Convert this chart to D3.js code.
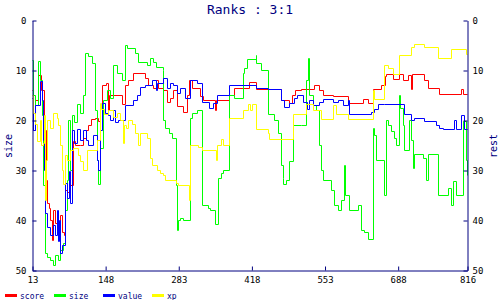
<!DOCTYPE html>
<html lang="en">
<head>
    <meta charset="UTF-8">
    <title>Ranks : 3:1</title>
    <script src="https://d3js.org/d3.v7.min.js"></script>
    <style>
        body { margin: 0; background: #fff; }
        svg { display: block; }
        text { font-family: "DejaVu Sans Mono", monospace; }
        .axis path, .axis line { stroke: #000080; }
        .axis text { fill: #000; font-size: 9px; }
        .series { fill: none; stroke-width: 1; }
    </style>
</head>
<body>
<svg id="chart" width="500" height="300"></svg>
<script>
    // step points [x, rank] for each series
    const score = [[13,14],[15,22],[19,16],[24,11],[30,14],[35,22],[39,32],[41,36.5],[44,37.5],[46,40],[50,44],[52,38],[56,40.5],[61,41],[65,39],[69,42.5],[72,43],[74,34],[78,34.5],[83,33],[89,24.2],[93,25],[102,24.9],[108,23.5],[113,22],[117,21],[122,19.8],[130,19.5],[135,20.2],[139,17.6],[143,12.9],[150,12.6],[154,17.9],[156,14.9],[179,16.9],[185,12.9],[191,11.9],[200,10.6],[222,11.6],[228,12.9],[237,13.5],[241,12],[246,13.5],[255,13.9],[263,16.3],[268,15.6],[274,13.9],[281,17.2],[291,18.4],[300,15],[302,11.9],[309,13.5],[324,15.2],[328,15.9],[351,17.9],[353,15.9],[376,14.9],[385,13.6],[413,12.3],[426,13.8],[472,15.9],[487,16.6],[493,14.9],[498,13.9],[509,13.8],[533,12.9],[542,13.9],[550,14.9],[568,15.2],[596,16.6],[624,15.8],[633,16.6],[642,13.8],[657,12.9],[664,11.2],[666,10.7],[679,11.8],[690,10.7],[698,11.9],[707,11],[712,13.8],[715,10.7],[736,12],[744,13.5],[764,14.8],[805,13.8],[809,14.8],[816,14.8]];
    const size = [[13,8],[15,15],[19,17],[24,8.2],[28,12],[32,19],[33,33],[37,46.5],[41,47.5],[46,47.9],[52,48.9],[56,46.9],[61,47.9],[65,46],[70,44.5],[74,38],[78,32],[80,20],[83,30],[87,19],[91,20.5],[96,16.9],[102,18.5],[107,15],[111,6.5],[117,7.2],[124,8.5],[130,18],[133,28],[135,32.9],[139,25.5],[144,16],[152,14],[157,15.5],[163,9],[170,10.5],[179,12],[185,5],[189,5.6],[204,6.5],[209,8.3],[226,9],[231,7.5],[237,8.4],[241,9.3],[254,10],[255,20],[259,21.5],[265,22.5],[272,23.5],[278,33],[281,42],[283,40],[287,39.5],[291,40],[305,19.6],[309,18.6],[318,17.9],[327,36.9],[337,37.6],[342,37.9],[351,40.9],[357,31.5],[361,30.5],[365,30],[376,14.9],[385,15.5],[402,10.6],[405,9.6],[409,7.7],[426,6.9],[427,8.6],[435,9.9],[448,18.9],[459,19.9],[468,22.6],[472,28.9],[476,31.5],[477,32.9],[481,31.9],[487,28.2],[494,21],[509,21],[518,12],[522,7.6],[524,15],[531,17],[537,18],[542,25],[546,30],[550,32],[565,34],[570,37],[578,38],[583,36],[589,29],[590,35],[598,38],[614,37],[620,42],[625,42.5],[633,43.8],[642,21.6],[644,23],[648,28],[662,35],[666,20],[670,21],[675,22.2],[681,23.5],[685,24.9],[690,14.9],[692,17.5],[698,21],[700,25.9],[709,20],[712,24],[716,29.6],[718,26.9],[734,27.5],[740,31.9],[744,26.9],[762,34.9],[781,33.6],[786,36.9],[790,32.2],[796,34.9],[809,20.2],[814,28],[816,30.9]];
    const value = [[13,15.6],[15,22],[19,17],[28,12.2],[32,16],[33,24],[35,30],[37,38.6],[41,41.4],[46,42.9],[52,41],[56,43],[59,38],[61,44.2],[63,40],[65,46.5],[69,44.9],[74,32.6],[78,35.6],[81,30.2],[83,36.5],[87,22],[91,24.5],[96,21.8],[102,24],[107,22],[113,24],[117,24.9],[126,23],[133,28],[135,30],[139,22],[143,16.5],[148,18.5],[154,19],[157,20],[163,18],[166,20.5],[172,20],[185,17],[200,16],[207,15],[213,13.4],[222,12.9],[235,11.9],[241,13.9],[244,12.5],[255,11.5],[263,13.5],[268,12.5],[274,13],[281,14.5],[287,13.5],[296,15.5],[305,11.9],[318,12.5],[327,16.4],[339,17.5],[348,16.5],[355,14.9],[376,12.9],[426,13.5],[448,13.8],[472,15.9],[478,17.3],[487,16.6],[496,15.5],[503,14.9],[514,16.3],[520,17.8],[525,15.9],[531,17],[542,16.3],[550,15.8],[568,16.4],[577,15.9],[587,17],[596,16],[598,18.8],[638,18.3],[644,17.8],[651,16.9],[662,16.7],[699,18.7],[712,20],[718,19.5],[736,20.2],[759,21],[764,21.6],[772,21.8],[792,20],[796,21.8],[805,19],[811,21.7],[816,21.7]];
    const xp = [[13,15],[15,18.5],[19,20.9],[22,24.2],[28,20],[30,25],[33,24.5],[35,19],[37,36],[39,28],[41,20],[46,21.6],[52,18.6],[59,19.5],[61,21],[65,25],[69,30],[70,32.9],[74,27],[78,28],[83,26],[89,25.6],[98,27],[102,28.2],[107,29.9],[115,25.9],[133,24],[139,16.5],[141,17.8],[145,18.9],[154,17.9],[163,19.3],[170,18.6],[176,19.9],[181,24.5],[183,21],[187,21.5],[191,19.9],[198,20.9],[204,22.6],[209,25],[213,22.6],[226,23.6],[231,27.6],[235,29],[244,29.9],[250,30.5],[255,30.9],[259,31.9],[278,32.5],[283,33],[302,35.9],[305,24.9],[320,25.3],[327,25.9],[352,27.9],[355,24.9],[361,23.7],[366,24.9],[376,19.7],[402,18],[411,16.8],[415,18],[420,16.8],[426,21.7],[448,22.5],[450,23.7],[494,18.8],[518,16.9],[531,18],[546,19.8],[568,17],[574,18.8],[596,19.8],[642,13.9],[644,15.7],[662,8.9],[670,9.6],[679,10.8],[690,6.9],[712,5.4],[718,4.8],[736,5.4],[762,7.6],[786,5.7],[814,6.8],[816,6.8]];

    const seriesNames = ["score", "size", "value", "xp"];
    const seriesColors = ["#ff0000", "#00ff00", "#0000ff", "#ffff00"];
    const xTicks = [13, 148, 283, 418, 553, 688, 816];
    const yTicks = [0, 10, 20, 30, 40, 50];

    const svg = d3.select("#chart");
    const x = d3.scaleLinear().domain([13, 816]).range([32.5, 467.5]);
    const y = d3.scaleLinear().domain([0, 50]).range([20.5, 270.5]);

    svg.append("text")
        .attr("x", 250).attr("y", 14)
        .attr("text-anchor", "middle")
        .attr("fill", "#000080")
        .style("font-size", "13px")
        .text("Ranks : 3:1");

    // snap to pixel centres so the 1px steps stay sharp
    const snap = v => Math.round(v - 0.5) + 0.5;
    const line = d3.line()
        .x(d => snap(x(d[0])))
        .y(d => snap(y(d[1])))
        .curve(d3.curveStepAfter);

    [score, size, value, xp].forEach((data, i) => {
        svg.append("path")
            .datum(data)
            .attr("class", "series")
            .attr("stroke", seriesColors[i])
            .attr("d", line);
    });

    svg.append("g")
        .attr("class", "axis")
        .attr("transform", "translate(32.5,0)")
        .call(d3.axisLeft(y).tickValues(yTicks).tickSize(-4).tickSizeOuter(0).tickPadding(6));

    svg.append("g")
        .attr("class", "axis")
        .attr("transform", "translate(467.5,0)")
        .call(d3.axisRight(y).tickValues(yTicks).tickSize(-4).tickSizeOuter(0).tickPadding(5));

    svg.append("g")
        .attr("class", "axis")
        .attr("transform", "translate(0,270.5)")
        .call(d3.axisBottom(x).tickValues(xTicks).tickSize(-4).tickSizeOuter(0).tickPadding(6));

    svg.append("text")
        .attr("transform", "translate(12,146) rotate(-90)")
        .attr("text-anchor", "middle")
        .attr("fill", "#000080")
        .style("font-size", "10px")
        .text("size");

    svg.append("text")
        .attr("transform", "translate(497,146) rotate(-90)")
        .attr("text-anchor", "middle")
        .attr("fill", "#000080")
        .style("font-size", "10px")
        .text("rest");

    const legend = svg.selectAll(".legend")
        .data(seriesNames)
        .enter().append("g")
        .attr("class", "legend")
        .attr("transform", (d, i) => `translate(${5 + i * 49},0)`);

    legend.append("line")
        .attr("x1", 0).attr("x2", 12)
        .attr("y1", 295.5).attr("y2", 295.5)
        .attr("stroke", (d, i) => seriesColors[i])
        .attr("stroke-width", 3);

    legend.append("text")
        .attr("x", 15).attr("y", 298.5)
        .attr("fill", "#000080")
        .style("font-size", "8px")
        .text(d => d);
</script>
</body>
</html>
